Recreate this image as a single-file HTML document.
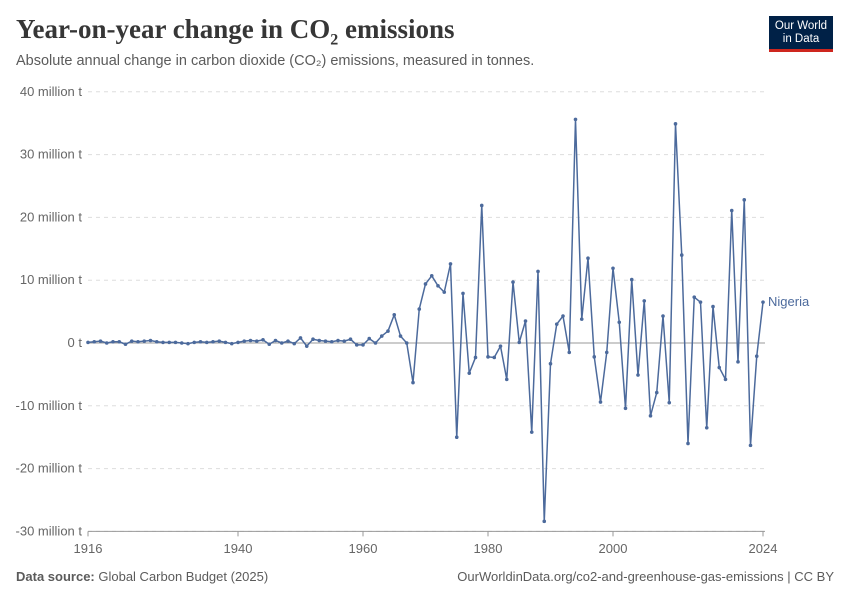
<!DOCTYPE html>
<html><head><meta charset="utf-8"><style>
body{margin:0;background:#fff;font-family:"Liberation Sans",sans-serif;}
#wrap{position:relative;width:850px;height:600px;overflow:hidden;}
</style></head><body>
<div id="wrap">
<div style="position:absolute;left:16px;top:14px;font-family:'Liberation Serif',serif;font-size:27px;font-weight:bold;color:#363636;">Year-on-year change in CO<sub style="font-size:16px">2</sub> emissions</div>
<div style="position:absolute;left:16px;top:53px;font-size:14.5px;color:#5b5b5b;">Absolute annual change in carbon dioxide (CO₂) emissions, measured in tonnes.</div>
<div style="position:absolute;left:769px;top:16px;width:64px;height:36px;background:#002147;border-bottom:3px solid #ce261e;color:#fff;font-size:11.5px;line-height:13px;text-align:center;padding-top:4px;box-sizing:border-box;">Our World<br>in Data</div>
<svg id="chart" width="850" height="600" style="position:absolute;left:0;top:0"></svg>
<div style="position:absolute;left:16px;top:569px;font-size:13px;color:#5b5b5b;"><b>Data source:</b> Global Carbon Budget (2025)</div>
<div style="position:absolute;right:16px;top:569px;font-size:13px;color:#5b5b5b;">OurWorldinData.org/co2-and-greenhouse-gas-emissions | CC BY</div>
</div>
<script>
const years=[];for(let y=1916;y<=2024;y++)years.push(y);
const values=[0.1,0.2,0.3,0.0,0.2,0.2,-0.2,0.3,0.2,0.3,0.4,0.2,0.1,0.1,0.1,0.0,-0.1,0.1,0.2,0.1,0.2,0.3,0.1,-0.1,0.1,
0.3,0.4,0.3,0.5,-0.2,0.4,0.0,0.3,-0.1,0.8,-0.5,0.6,0.4,0.3,0.2,0.4,0.3,0.6,
-0.3,-0.3,0.7,0.0,1.1,1.9,4.5,1.1,0.0,-6.3,5.4,9.4,10.7,9.1,8.1,12.6,-15.0,7.9,-4.8,-2.3,21.9,-2.2,-2.3,-0.5,-5.8,9.7,0.1,3.5,-14.2,11.4,-28.4,-3.3,3.0,4.3,-1.5,
35.6,3.8,13.5,-2.2,-9.4,-1.5,11.9,3.3,-10.4,10.1,-5.1,6.7,-11.6,-7.9,4.3,-9.5,34.9,14.0,-16.0,7.3,6.5,-13.5,5.8,-3.9,-5.8,21.1,-3.0,22.8,-16.3,-2.1,6.5];
const yTicks=[-30,-20,-10,0,10,20,30,40];
const xTicks=[1916,1940,1960,1980,2000,2024];
const x0=88,x1=763,yZero=343,pxPerM=6.28;
const sx=y=>x0+(y-1916)*(x1-x0)/(2024-1916);
const sy=v=>yZero-v*pxPerM;
const svg=document.getElementById('chart');const NS='http://www.w3.org/2000/svg';
function mk(t,a){const e=document.createElementNS(NS,t);for(const k in a)e.setAttribute(k,a[k]);svg.appendChild(e);return e;}
yTicks.forEach(v=>{
 const l=mk('line',{x1:x0,x2:765,y1:sy(v),y2:sy(v),stroke:v===0?'#9a9a9a':'#dddddd','stroke-dasharray':v===0?'':'4,4'});
 
 
 const t=mk('text',{x:82,y:sy(v)+4,'text-anchor':'end','font-size':13,fill:'#666','font-family':'Liberation Sans,sans-serif'});
 t.textContent=v===0?'0 t':v+' million t';
 
 
});
const ax=mk('line',{x1:x0,x2:765,y1:sy(-30),y2:sy(-30),stroke:'#999'});


xTicks.forEach(y=>{
 const tk=mk('line',{x1:sx(y),x2:sx(y),y1:sy(-30),y2:sy(-30)+5,stroke:'#999'});
 
 
 const t=mk('text',{x:sx(y),y:553,'text-anchor':'middle','font-size':13,fill:'#666','font-family':'Liberation Sans,sans-serif'});
 t.textContent=y;
 
 
});
const pts=years.map((y,i)=>sx(y)+','+sy(values[i])).join(' ');
const pl=mk('polyline',{points:pts,fill:'none',stroke:'#4c6a9c','stroke-width':1.5,'stroke-linejoin':'round'});


years.forEach((y,i)=>{
 const c=mk('circle',{cx:sx(y),cy:sy(values[i]),r:1.8,fill:'#4c6a9c'});
 
 
});
const lab=mk('text',{x:768,y:sy(values[values.length-1])+4,'font-size':13,fill:'#4c6a9c','font-family':'Liberation Sans,sans-serif'});
lab.textContent='Nigeria';


</script>
</body></html>
